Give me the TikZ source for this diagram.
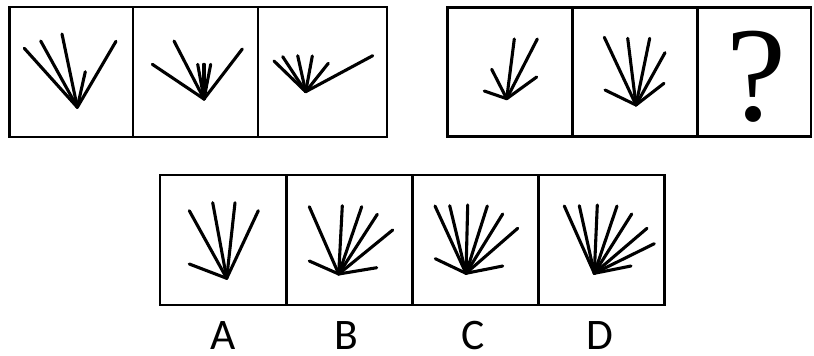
\documentclass[tikz,border=0pt]{standalone}
\usepackage{fontspec}
\newfontfamily\labelfont{Carlito}
\newfontfamily\qfont{Liberation Serif}
\usepackage{tikz}

\begin{document}
\begin{tikzpicture}[
  x=0.025cm, y=-0.025cm,
  frame/.style={draw=black,line width=1.8pt},
  fanline/.style={draw=black,line width=2.2pt,line cap=round},
  optlabel/.style={font=\labelfont\fontsize{31}{31}\selectfont,inner sep=0pt,anchor=base},
  qmark/.style={font=\qfont\fontsize{96}{96}\selectfont,inner sep=0pt,anchor=base}
]
\useasboundingbox (0,0) rectangle (814,355);

%% ── Top-left row: three given figures ──
\draw[frame] (9.5,7) rectangle (387,137);
\draw[frame] (133,7) -- (133,137);
\draw[frame] (258,7) -- (258,137);

% panel 1
\foreach \x/\y in {24.3/48.3, 40.7/41, 62/34, 85.3/71.7, 116/41.3}
  \draw[fanline] (77.3,107.3) -- (\x,\y);
% panel 2
\foreach \x/\y in {152.3/64.3, 174/41, 197.7/64.3, 204/64.3, 210.7/64.3, 242.3/49}
  \draw[fanline] (204,99) -- (\x,\y);
% panel 3
\foreach \x/\y in {274/61, 282.7/56.7, 297.7/55.7, 312.3/56, 328.3/63.3, 372.7/55.7}
  \draw[fanline] (305.7,91.7) -- (\x,\y);

%% ── Top-right row: two figures and the question ──
\draw[frame] (447.3,7.3) rectangle (811,136.7);
\draw[frame] (572.3,7.3) -- (572.3,136.7);
\draw[frame] (697.7,7.3) -- (697.7,136.7);

% panel 4
\foreach \x/\y in {484.3/91, 491.7/69.3, 514.3/39, 537.3/39, 536.7/77}
  \draw[fanline] (506.7,98.7) -- (\x,\y);
% panel 5
\foreach \x/\y in {605/90, 604.3/37.3, 627.7/38.3, 649.7/38.3, 665/52.7, 664/83.3}
  \draw[fanline] (636,105) -- (\x,\y);
% question
\node[qmark] (quest) at (756,120) {?};

%% ── Bottom row: options A--D ──
\draw[frame] (160,175) rectangle (664.3,305);
\draw[frame] (286.7,175) -- (286.7,305);
\draw[frame] (412.3,175) -- (412.3,305);
\draw[frame] (538.3,175) -- (538.3,305);

% option A
\foreach \x/\y in {189.3/264, 189.3/210.7, 212.7/202.7, 235/202.7, 258.3/210.7}
  \draw[fanline] (226.7,278.3) -- (\x,\y);
% option B
\foreach \x/\y in {309.3/261, 309.3/206.7, 342.3/205.7, 361.7/206.7, 377.3/214.3, 392.7/230, 376.7/267.7}
  \draw[fanline] (338.7,274) -- (\x,\y);
% option C
\foreach \x/\y in {435.3/258.7, 435/206, 449.7/205.7, 467.7/205, 487.3/206, 502.7/214, 517.7/228.3, 502.7/266}
  \draw[fanline] (466,273.3) -- (\x,\y);
% option D
\foreach \x/\y in {564.3/206, 579.3/205.7, 597.3/205, 617/206, 631.7/214, 647/228.3, 654.3/243.7, 631/266}
  \draw[fanline] (594.3,273.3) -- (\x,\y);

%% ── Option letters ──
\node[optlabel] (optA) at (223.3,349) {A};
\node[optlabel] (optB) at (346.7,349) {B};
\node[optlabel] (optC) at (473.3,349) {C};
\node[optlabel] (optD) at (600,349)   {D};

\end{tikzpicture}
\end{document}
